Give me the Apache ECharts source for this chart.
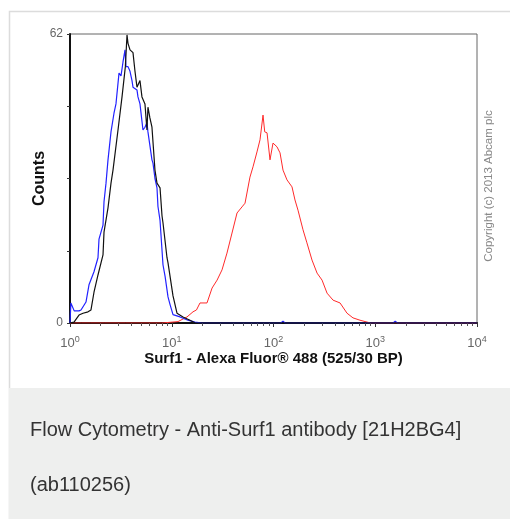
<!DOCTYPE html>
<html>
<head>
<meta charset="utf-8">
<script src="https://cdn.jsdelivr.net/npm/echarts@6/dist/echarts.min.js"></script>
<style>
html,body{margin:0;padding:0;background:#fff;}
#chart{width:510px;height:519px;}
</style>
</head>
<body>
<div id="chart"></div>
<script>
// ---- Data (fluorescence intensity, counts) ----
const blueX  = [1.0, 1.02, 1.10, 1.146, 1.226, 1.283, 1.436, 1.537, 1.721, 1.884, 1.928, 2.110, 2.159, 2.259, 2.363, 2.529, 2.706, 2.83, 3.031, 3.172, 3.319, 3.473, 3.55, 3.716, 3.888, 4.067, 4.160, 4.352, 4.552, 4.657, 4.872, 5.213, 5.454, 5.706, 5.836, 6.39, 6.54, 6.84, 7.16, 7.32, 7.67, 8.20, 8.6, 9.19, 9.61, 10.29, 12.05, 14.44, 16.9, 20, 118, 124, 130, 1500, 1570, 1650, 10000];
const blueY  = [0, 4.3, 2.6, 2.4, 2.6, 2.8, 4.5, 8.2, 11, 14, 18, 21, 26, 30, 35, 41, 45, 47, 53.6, 53, 56, 58.6, 55, 55, 54, 52, 50.6, 51, 50, 48.5, 47, 41.4, 42, 43, 41, 35, 34.3, 31, 29, 25, 22, 12.5, 10, 5.6, 4, 1.8, 1.3, 0.6, 0.2, 0, 0, 0.4, 0, 0, 0.4, 0, 0];

const blackX = [1.0, 1.095, 1.226, 1.342, 1.503, 1.608, 1.721, 1.884, 2.110, 2.159, 2.363, 2.529, 2.646, 2.963, 3.245, 3.50, 3.633, 3.716, 3.888, 4.160, 4.352, 4.552, 4.872, 5.097, 5.454, 5.706, 5.836, 6.1, 6.39, 6.84, 7.16, 7.32, 7.67, 8.02, 8.20, 8.98, 9.19, 10.29, 11.26, 12.90, 15.11, 17, 10000];
const blackY = [0, 0.2, 1.7, 2.1, 2.4, 2.8, 6.6, 10.3, 14.6, 19.5, 24.7, 30, 32.8, 41.4, 48.5, 55, 61.8, 60, 58.6, 58, 54, 50.6, 52, 48.5, 47, 41.4, 46.3, 44, 42, 32.8, 30, 30, 29, 23, 21.5, 14, 12.9, 5.8, 2.1, 1.3, 0.6, 0, 0];

const redX   = [1.0, 1.3, 1.35, 1.6, 1.65, 2.2, 2.25, 3.5, 3.6, 5.0, 5.1, 8.0, 8.2, 11.52, 14.12, 16.18, 17.5, 18.95, 22.2, 24.9, 27.9, 31.2, 34.9, 39.1, 43.8, 49.0, 52.5, 58.7, 62.9, 68.8, 73.7, 78.9, 82, 86.4, 92.4, 98.9, 108.2, 115.9, 124.0, 135.7, 152, 162.6, 174.1, 195, 213, 239, 268, 300, 336, 385, 451, 528, 604, 708, 830, 900, 10000];
const redY   = [0, 0, 0.4, 0, 0.4, 0, 0.4, 0, 0.4, 0, 0.4, 0, 0.4, 0.3, 1.3, 2.4, 2.8, 4.3, 4.3, 7.5, 9.2, 11.4, 15, 19.3, 23.6, 24.9, 25.7, 31.3, 33.5, 36.7, 39.3, 44.6, 41, 40.8, 35, 38.6, 37.8, 36.5, 32.8, 30.7, 29.2, 26.4, 24.2, 20, 17.2, 13.5, 10.7, 9.2, 6.4, 4.9, 4.3, 2.1, 1.1, 0.6, 0.2, 0, 0];

const yTickLabels = [0, 62];
const xTitle = 'Surf1 - Alexa Fluor\u00ae 488 (525/30 BP)';
const yTitle = 'Counts';
const caption1 = 'Flow Cytometry - Anti-Surf1 antibody [21H2BG4]';
const caption2 = '(ab110256)';
const copyright = 'Copyright (c) 2013 Abcam plc';

function zip(xs, ys){ return xs.map((x,i)=>[x, ys[i]]); }

const chart = echarts.init(document.getElementById('chart'), null, {renderer:'canvas'});
const font = 'Liberation Sans, Arial, sans-serif';

chart.setOption({
  animation: false,
  backgroundColor: '#fff',
  grid: {left: 70, top: 34, width: 407, height: 289, show: true, borderColor: '#666', borderWidth: 1, backgroundColor: 'transparent'},
  xAxis: {
    type: 'log', logBase: 10, min: 1, max: 10000,
    name: xTitle, nameLocation: 'middle', nameGap: 28, nameMoveOverlap: false,
    nameTextStyle: {fontFamily: font, fontWeight: 'bold', fontSize: 15, color: '#111'},
    axisLine: {show: true, lineStyle: {color: '#111', width: 2}},
    axisTick: {show: true, length: 4, inside: false, lineStyle: {color: '#333'}},
    minorTick: {show: true, splitNumber: 9, length: 3, lineStyle: {color: '#555'}},
    splitLine: {show: false}, minorSplitLine: {show: false},
    axisLabel: {
      margin: 12,
      formatter: v => '{b|10}{s|' + Math.round(Math.log10(v)) + '}',
      rich: {
        b: {fontFamily: font, fontSize: 13, color: '#666'},
        s: {fontFamily: font, fontSize: 9, color: '#666', padding: [0,0,8,0]}
      }
    }
  },
  yAxis: {
    type: 'value', min: 0, max: 62, interval: 15.5,
    name: yTitle, nameLocation: 'middle', nameGap: 22, nameRotate: 90, nameMoveOverlap: false,
    nameTextStyle: {fontFamily: font, fontWeight: 'bold', fontSize: 16, color: '#111'},
    axisLine: {show: true, lineStyle: {color: '#111', width: 2}},
    axisTick: {show: true, length: 3, lineStyle: {color: '#333'}},
    splitLine: {show: false},
    axisLabel: {
      margin: 7, fontFamily: font, fontSize: 12, color: '#666',
      formatter: v => yTickLabels.indexOf(v) >= 0 ? String(v) : ''
    }
  },
  series: [
    {type: 'line', data: zip(redX, redY), symbol: 'none', lineStyle: {color: '#ff2a2a', width: 1}, z: 2},
    {type: 'line', data: zip(blueX, blueY), symbol: 'none', lineStyle: {color: '#2222ff', width: 1.2}, z: 3},
    {type: 'line', data: zip(blackX, blackY), symbol: 'none', lineStyle: {color: '#111', width: 1.2}, z: 4}
  ],
  graphic: [
    {type: 'rect', z: -10, silent: true, shape: {x: 9.5, y: 11.5, width: 520, height: 520}, style: {fill: '#fff', stroke: '#dcdcdc', lineWidth: 1.5}},
    {type: 'rect', z: -9, silent: true, shape: {x: 9, y: 388, width: 510, height: 140}, style: {fill: '#eeefee'}},
    {type: 'text', x: 30, y: 430, style: {text: caption1, fontFamily: font, fontSize: 20, fill: '#333', textVerticalAlign: 'middle'}},
    {type: 'text', x: 30, y: 485, style: {text: caption2, fontFamily: font, fontSize: 20, fill: '#333', textVerticalAlign: 'middle'}},
    {type: 'text', x: 489, y: 186, rotation: Math.PI/2, style: {text: copyright, fontFamily: font, fontSize: 11.5, fill: '#888', textAlign: 'center', textVerticalAlign: 'middle'}}
  ]
});
</script>
</body>
</html>
